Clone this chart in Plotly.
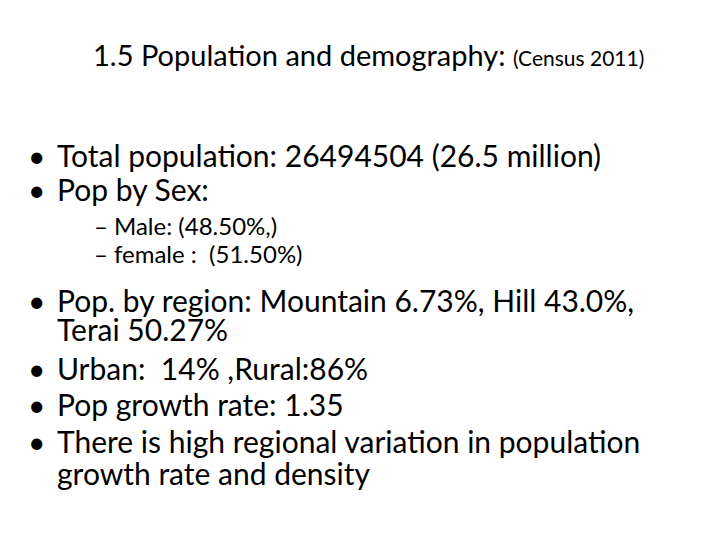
import plotly.graph_objects as go

W, H = 720, 540
FONT = "Lato, Carlito, Open Sans, sans-serif"

title_main = "1.5 Population and demography: "
title_small = "(Census 2011)"

# (level, bullet, text, y-centre in px)
bullet_lines = [
    (0, "•", "Total population: 26494504 (26.5 million)", 147),
    (0, "•", "Pop by Sex:", 181),
    (1, "–", "Male: (48.50%,)", 217),
    (1, "–", "female :  (51.50%)", 246),
    (0, "•", "Pop. by region: Mountain 6.73%, Hill 43.0%,", 292),
    (0, "", "Terai 50.27%", 321),
    (0, "•", "Urban:  14% ,Rural:86%", 360),
    (0, "•", "Pop growth rate: 1.35", 396),
    (0, "•", "There is high regional variation in population", 433),
    (0, "", "growth rate and density", 465),
]

fig = go.Figure()
fig.add_annotation(
    x=360 / W, y=1 - 47 / H, xref="paper", yref="paper", showarrow=False,
    xanchor="center", yanchor="middle",
    text=f"{title_main}<span style='font-size:21px'>{title_small}</span>",
    font=dict(family=FONT, size=29, color="black"),
)
for level, bullet, text, y in bullet_lines:
    size = 30 if level == 0 else 24
    bx = 18 if level == 0 else 84
    tx = 47 if level == 0 else 104
    if bullet:
        fig.add_annotation(
            x=bx / W, y=1 - y / H, xref="paper", yref="paper", showarrow=False,
            xanchor="left", yanchor="middle", text=bullet,
            font=dict(family=FONT, size=size, color="black"),
        )
    fig.add_annotation(
        x=tx / W, y=1 - y / H, xref="paper", yref="paper", showarrow=False,
        xanchor="left", yanchor="middle", text=text,
        font=dict(family=FONT, size=size, color="black"),
    )

fig.update_layout(
    width=W, height=H, margin=dict(l=0, r=0, t=0, b=0),
    paper_bgcolor="white", plot_bgcolor="white",
    xaxis=dict(visible=False), yaxis=dict(visible=False),
)
fig.write_html("out.html")
